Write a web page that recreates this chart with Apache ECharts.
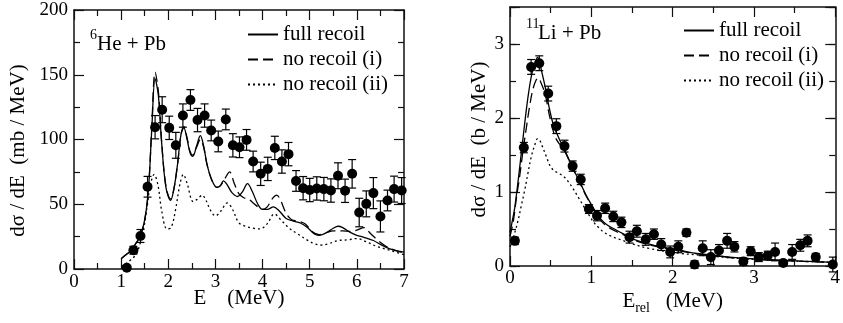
<!DOCTYPE html>
<html>
<head>
<meta charset="utf-8">
<script src="https://cdn.jsdelivr.net/npm/echarts@6/dist/echarts.min.js"></script>
<style>
  html, body { margin: 0; padding: 0; background: #fff; }
  #chart { width: 843px; height: 323px; }
</style>
</head>
<body>
<div id="chart"></div>
<script>
// 6He + Pb data points (E in MeV, dsigma/dE in mb/MeV)
const heE = [1.12, 1.26, 1.41, 1.56, 1.72, 1.87, 2.02, 2.16, 2.31, 2.47, 2.62, 2.77, 2.91, 3.06, 3.22, 3.37, 3.51, 3.66, 3.80, 3.96,
  4.11, 4.26, 4.41, 4.55, 4.71, 4.86, 5.00, 5.15, 5.30, 5.45, 5.60, 5.75, 5.90, 6.05, 6.20, 6.35, 6.50, 6.65, 6.79, 6.95];
const heSigma = [1, 14.5, 25.5, 63.5, 109.5, 123, 109, 95.5, 118.5, 130.5, 115, 118.5, 107, 98.5, 115.5, 95.5, 94, 99.7, 83, 73.5,
  77.3, 93.5, 83, 88.7, 68, 62.4, 61, 62.2, 61.7, 60.6, 72, 60.4, 73.5, 43.6, 50.3, 58.6, 40.6, 52.9, 61.7, 60.6];
const heErr = [0, 3, 5, 8, 9, 10, 9, 10, 9, 8, 9, 9, 8, 8, 8, 9, 8, 8, 8, 9,
  9, 9, 9, 9, 8, 9, 9, 9, 9, 9, 10, 9, 11, 11, 10, 12, 12, 8, 10, 10];

// 6He + Pb curves [E, value]
const heFull = [[1.0, 8], [1.1, 11], [1.2, 14], [1.3, 19], [1.4, 25], [1.5, 38], [1.58, 62], [1.65, 108], [1.72, 147], [1.79, 134],
  [1.86, 97], [1.95, 63], [2.05, 53], [2.12, 62], [2.2, 82], [2.27, 104], [2.33, 109], [2.4, 100], [2.46, 90], [2.52, 87],
  [2.6, 95], [2.68, 103], [2.75, 95], [2.82, 81], [2.92, 69], [3.03, 63], [3.1, 64], [3.17, 68], [3.25, 65], [3.35, 59],
  [3.47, 56], [3.58, 60], [3.68, 66], [3.78, 60], [3.9, 50], [4.0, 46], [4.1, 46], [4.23, 48], [4.35, 45], [4.5, 39],
  [4.65, 37], [4.8, 35.5], [4.95, 32], [5.1, 27], [5.2, 26], [5.35, 28], [5.5, 31.5], [5.6, 33], [5.7, 32], [5.85, 28.5],
  [6.0, 26], [6.15, 24.5], [6.35, 22], [6.5, 19], [6.7, 15.5], [6.85, 14], [7.0, 13]];
const heNoRecoil1 = [[1.0, 8], [1.1, 11], [1.2, 14], [1.3, 19], [1.4, 25], [1.5, 38], [1.58, 62], [1.65, 110], [1.72, 152], [1.79, 137],
  [1.86, 98], [1.95, 64], [2.05, 54], [2.12, 62], [2.2, 82], [2.27, 104], [2.33, 110], [2.4, 101], [2.46, 91], [2.52, 88],
  [2.6, 94], [2.68, 100], [2.75, 94], [2.82, 81], [2.92, 69], [3.03, 63], [3.12, 65], [3.22, 71], [3.3, 75], [3.4, 66],
  [3.5, 58], [3.6, 55], [3.7, 54], [3.8, 51], [3.9, 48], [4.0, 46], [4.1, 48], [4.2, 54], [4.3, 57], [4.37, 54],
  [4.5, 43], [4.62, 38], [4.75, 37], [4.9, 35], [5.05, 29], [5.2, 26.5], [5.35, 28], [5.5, 29.5], [5.7, 29.5], [5.85, 29],
  [6.0, 30], [6.15, 32], [6.3, 27], [6.45, 22], [6.6, 18], [6.8, 14.5], [7.0, 12.5]];
const heNoRecoil2 = [[1.0, 2], [1.1, 4], [1.2, 7], [1.33, 12], [1.47, 30], [1.55, 48], [1.62, 65], [1.7, 73], [1.78, 65], [1.86, 45],
  [1.97, 31], [2.06, 32], [2.15, 45], [2.25, 66], [2.32, 73], [2.4, 66], [2.53, 52], [2.62, 54], [2.72, 57], [2.8, 53],
  [2.9, 45], [3.0, 41], [3.12, 45], [3.25, 51], [3.35, 47], [3.49, 36], [3.6, 33.5], [3.8, 31.5], [3.95, 31], [4.1, 35],
  [4.25, 42.5], [4.4, 37.5], [4.58, 31], [4.75, 27], [4.94, 22.5], [5.1, 19.5], [5.25, 18.5], [5.4, 19.5], [5.6, 22], [5.8, 22.5],
  [6.0, 23.5], [6.2, 21], [6.42, 17.5], [6.7, 14.5], [7.0, 11]];

// 11Li + Pb data points (E_rel in MeV, dsigma/dE in b/MeV)
const liE = [0.06, 0.17, 0.26, 0.36, 0.47, 0.57, 0.67, 0.77, 0.87, 0.97, 1.07, 1.17, 1.27, 1.37, 1.47, 1.56, 1.67, 1.77, 1.86, 1.97,
  2.07, 2.17, 2.27, 2.37, 2.47, 2.57, 2.67, 2.76, 2.87, 2.96, 3.06, 3.17, 3.26, 3.36, 3.47, 3.57, 3.66, 3.76, 3.97];
const liSigma = [0.34, 1.60, 2.69, 2.74, 2.33, 1.89, 1.62, 1.35, 1.17, 0.77, 0.68, 0.78, 0.67, 0.59, 0.39, 0.47, 0.36, 0.43, 0.29, 0.19,
  0.26, 0.45, 0.02, 0.24, 0.12, 0.21, 0.34, 0.26, 0.06, 0.20, 0.12, 0.14, 0.19, 0.04, 0.19, 0.28, 0.34, 0.12, 0.02];
const liErr = [0.05, 0.07, 0.1, 0.1, 0.1, 0.1, 0.08, 0.07, 0.07, 0.06, 0.07, 0.07, 0.07, 0.07, 0.08, 0.08, 0.08, 0.07, 0.08, 0.08,
  0.08, 0.05, 0.05, 0.1, 0.1, 0.08, 0.1, 0.07, 0.05, 0.06, 0.06, 0.06, 0.12, 0.04, 0.1, 0.08, 0.08, 0.05, 0.1];

// 11Li + Pb curves [E_rel, value]
const liFull = [[0, 0.45], [0.03, 0.62], [0.06, 0.8], [0.12, 1.34], [0.18, 1.92], [0.23, 2.35], [0.28, 2.65], [0.34, 2.82], [0.37, 2.72],
  [0.40, 2.58], [0.44, 2.38], [0.48, 2.15], [0.53, 1.92], [0.58, 1.78], [0.63, 1.66], [0.7, 1.5], [0.75, 1.38], [0.81, 1.24],
  [0.87, 1.11], [0.93, 0.97], [0.99, 0.85], [1.05, 0.74], [1.12, 0.63], [1.2, 0.55], [1.3, 0.49], [1.4, 0.43], [1.5, 0.37],
  [1.7, 0.30], [1.9, 0.25], [2.1, 0.21], [2.3, 0.17], [2.5, 0.145], [2.7, 0.12], [3.0, 0.095], [3.3, 0.08], [3.6, 0.065], [4.0, 0.05]];
const liNoRecoil1 = [[0, 0.4], [0.04, 0.6], [0.08, 0.93], [0.12, 1.22], [0.16, 1.56], [0.2, 1.86], [0.24, 2.15], [0.28, 2.38], [0.32, 2.51],
  [0.35, 2.54], [0.38, 2.48], [0.43, 2.33], [0.49, 2.01], [0.55, 1.76], [0.6, 1.66], [0.65, 1.6], [0.7, 1.49], [0.75, 1.37],
  [0.81, 1.23], [0.87, 1.10], [0.93, 0.96], [0.99, 0.84], [1.05, 0.72], [1.12, 0.61], [1.2, 0.53], [1.3, 0.47], [1.4, 0.42],
  [1.5, 0.36], [1.7, 0.29], [1.9, 0.24], [2.1, 0.2], [2.3, 0.165], [2.5, 0.14], [2.7, 0.115], [3.0, 0.09], [3.3, 0.075], [3.6, 0.062], [4.0, 0.048]];
const liNoRecoil2 = [[0, 0.26], [0.05, 0.42], [0.1, 0.62], [0.14, 0.82], [0.18, 1.02], [0.22, 1.25], [0.26, 1.47], [0.3, 1.62], [0.34, 1.72],
  [0.37, 1.69], [0.40, 1.61], [0.45, 1.47], [0.49, 1.36], [0.53, 1.3], [0.57, 1.27], [0.62, 1.24], [0.67, 1.2], [0.73, 1.12],
  [0.79, 1.02], [0.85, 0.91], [0.91, 0.8], [0.97, 0.69], [1.03, 0.59], [1.09, 0.52], [1.15, 0.46], [1.23, 0.41], [1.32, 0.37],
  [1.4, 0.34], [1.5, 0.30], [1.7, 0.24], [1.9, 0.2], [2.1, 0.17], [2.3, 0.15], [2.5, 0.13], [2.7, 0.11], [3.0, 0.09], [3.3, 0.075],
  [3.6, 0.062], [4.0, 0.05]];

const seriesNames = ['full recoil', 'no recoil (i)', 'no recoil (ii)'];

const FONT = 'Liberation Serif';
const INK = '#000';

const chart = echarts.init(document.getElementById('chart'));

// shared axis look: black frame, ticks pointing in
const axisBase = (extra) => Object.assign({
  type: 'value',
  nameMoveOverlap: false,
  axisLine: { show: true, onZero: false, lineStyle: { color: '#111', width: 1.5 } },
  axisTick: { show: true, inside: true, length: 10, lineStyle: { color: '#111', width: 1.2 } },
  minorTick: { show: true, splitNumber: 2, length: 6, lineStyle: { color: '#111', width: 1.2 } },
  splitLine: { show: false },
  axisLabel: { show: false },
}, extra);

const tickLabel = (margin, fmt) => ({
  show: true, margin, color: INK, fontFamily: FONT, fontSize: 19,
  formatter: fmt || (v => String(v)),
});

const nameStyle = { color: INK, fontFamily: FONT, fontSize: 21 };

const curve = (name, data, xi, yi, dash) => ({
  name, type: 'line', data, xAxisIndex: xi, yAxisIndex: yi,
  smooth: 0.35, symbol: 'none', silent: true,
  itemStyle: { color: INK },
  lineStyle: { color: INK, width: 1.3, type: dash || 'solid' },
});

const errBars = (xs, ys, es, xi, yi) => ({
  type: 'custom', xAxisIndex: xi, yAxisIndex: yi, silent: true,
  data: xs.map((x, i) => [x, ys[i] - es[i], ys[i] + es[i]]),
  encode: { x: 0, y: [1, 2] },
  renderItem: (params, api) => {
    const lo = api.coord([api.value(0), api.value(1)]);
    const hi = api.coord([api.value(0), api.value(2)]);
    const w = 4;
    const st = { stroke: INK, lineWidth: 1.2 };
    return {
      type: 'group',
      children: [
        { type: 'line', shape: { x1: lo[0], y1: lo[1], x2: hi[0], y2: hi[1] }, style: st },
        { type: 'line', shape: { x1: lo[0] - w, y1: lo[1], x2: lo[0] + w, y2: lo[1] }, style: st },
        { type: 'line', shape: { x1: hi[0] - w, y1: hi[1], x2: hi[0] + w, y2: hi[1] }, style: st },
      ],
    };
  },
});

const points = (xs, ys, xi, yi) => ({
  type: 'scatter', xAxisIndex: xi, yAxisIndex: yi, silent: true,
  data: xs.map((x, i) => [x, ys[i]]),
  symbol: 'circle', symbolSize: 10,
  itemStyle: { color: INK, opacity: 1 },
});

const legendBase = {
  orient: 'vertical', itemWidth: 30, itemHeight: 14, itemGap: 4, padding: 0,
  selectedMode: false,
  itemStyle: { opacity: 0 },
  textStyle: { color: INK, fontFamily: FONT, fontSize: 21, lineHeight: 20 },
  data: seriesNames,
};

const option = {
  animation: false,
  backgroundColor: '#fff',
  grid: [
    { left: 74, top: 10, width: 330, height: 259 },
    { left: 510, top: 7, width: 329, height: 259 },
  ],
  xAxis: [
    axisBase({ gridIndex: 0, position: 'bottom', min: 0, max: 7, interval: 1,
      axisLabel: tickLabel(4),
      name: 'E    (MeV)', nameLocation: 'middle', nameGap: 19, nameTextStyle: nameStyle }),
    axisBase({ gridIndex: 0, position: 'top', min: 0, max: 7, interval: 1 }),
    axisBase({ gridIndex: 1, position: 'bottom', min: 0, max: 4, interval: 1,
      axisLabel: tickLabel(3),
      name: '{m|E}{s|rel}{m|   (MeV)}', nameLocation: 'middle', nameGap: 21,
      nameTextStyle: Object.assign({}, nameStyle, {
        rich: {
          m: { fontFamily: FONT, fontSize: 21, color: INK },
          s: { fontFamily: FONT, fontSize: 14, color: INK, padding: [14, 0, 0, 0] },
        },
      }) }),
    axisBase({ gridIndex: 1, position: 'top', min: 0, max: 4, interval: 1 }),
  ],
  yAxis: [
    axisBase({ gridIndex: 0, position: 'left', min: 0, max: 200, interval: 50,
      axisLabel: tickLabel(6),
      name: 'dσ / dE  (mb / MeV)', nameLocation: 'middle', nameGap: 45,
      nameTextStyle: Object.assign({}, nameStyle, { padding: [0, 22, 0, 0] }) }),
    axisBase({ gridIndex: 0, position: 'right', min: 0, max: 200, interval: 50 }),
    axisBase({ gridIndex: 1, position: 'left', min: 0, max: 3.5, interval: 1, minorTick: { show: false },
      axisLabel: tickLabel(6, v => (v > 3 ? '' : String(v))),
      name: 'dσ / dE  (b / MeV)', nameLocation: 'middle', nameGap: 20,
      nameTextStyle: Object.assign({}, nameStyle, { padding: [0, 6, 0, 0] }) }),
    axisBase({ gridIndex: 1, position: 'right', min: 0, max: 3.5, interval: 1, minorTick: { show: false } }),
    // half-unit short ticks for the 11Li panel
    axisBase({ gridIndex: 1, position: 'left', min: 0, max: 3.5, interval: 0.5, minorTick: { show: false },
      axisLine: { show: false, onZero: false }, axisTick: { show: true, inside: true, length: 6, lineStyle: { color: '#111', width: 1.2 } } }),
    axisBase({ gridIndex: 1, position: 'right', min: 0, max: 3.5, interval: 0.5, minorTick: { show: false },
      axisLine: { show: false, onZero: false }, axisTick: { show: true, inside: true, length: 6, lineStyle: { color: '#111', width: 1.2 } } }),
  ],
  legend: [
    Object.assign({}, legendBase, { left: 247, top: 24 }),
    Object.assign({}, legendBase, { left: 683, top: 20 }),
  ],
  graphic: [
    { type: 'text', left: 90, top: 28, style: { text: '6', font: '14px "Liberation Serif"', fill: INK } },
    { type: 'text', left: 97, top: 34, style: { text: 'He + Pb', font: '21px "Liberation Serif"', fill: INK } },
    { type: 'text', left: 526, top: 17, style: { text: '11', font: '14px "Liberation Serif"', fill: INK } },
    { type: 'text', left: 538, top: 23, style: { text: 'Li + Pb', font: '21px "Liberation Serif"', fill: INK } },
  ],
  series: [
    curve(seriesNames[0], heFull, 0, 0),
    curve(seriesNames[1], heNoRecoil1, 0, 0, [10, 5]),
    curve(seriesNames[2], heNoRecoil2, 0, 0, [2, 3]),
    errBars(heE, heSigma, heErr, 0, 0),
    points(heE, heSigma, 0, 0),

    curve(seriesNames[0], liFull, 2, 2),
    curve(seriesNames[1], liNoRecoil1, 2, 2, [10, 5]),
    curve(seriesNames[2], liNoRecoil2, 2, 2, [2, 3]),
    errBars(liE, liSigma, liErr, 2, 2),
    points(liE, liSigma, 2, 2),
  ],
};

chart.setOption(option);
</script>
</body>
</html>
